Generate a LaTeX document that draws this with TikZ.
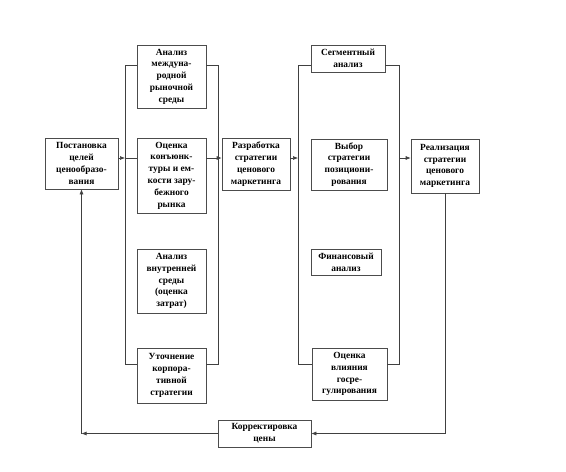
\documentclass[tikz,border=0pt]{standalone}
\usepackage{fontspec}
\setmainfont{Liberation Serif}
\usepackage{tikz}
\usetikzlibrary{calc, positioning, arrows.meta}

\begin{document}
\begin{tikzpicture}[>={Latex[length=5pt,width=4pt]}, x=1pt, y=-1pt,
    blok/.style={draw=black!70, line width=0.6pt, fill=white, align=center,
        inner sep=1pt, font=\fontsize{9.4}{11.8}\selectfont\bfseries},
    linia/.style={draw=black!75, line width=0.6pt}]
    \useasboundingbox (0,0) rectangle (566,472);

    % Блоки
    \node[blok, minimum width=73, minimum height=51] (cel) at (81.5,163.5)
        {Постановка\\целей\\ценообразо-\\вания};
    \node[blok, minimum width=69, minimum height=63] (an1) at (171.5,76.5)
        {Анализ\\междуна-\\родной\\рыночной\\среды};
    \node[blok, minimum width=69, minimum height=75] (an2) at (171.5,175.5)
        {Оценка\\конъюнк-\\туры и ем-\\кости зару-\\бежного\\рынка};
    \node[blok, minimum width=69, minimum height=64] (an3) at (171.5,281)
        {Анализ\\внутренней\\среды\\(оценка\\затрат)};
    \node[blok, minimum width=69, minimum height=55] (an4) at (171.5,375.5)
        {Уточнение\\корпора-\\тивной\\стратегии};
    \node[blok, minimum width=68, minimum height=52] (razr) at (256,164)
        {Разработка\\стратегии\\ценового\\маркетинга};
    \node[blok, minimum width=74, minimum height=27] (seg) at (348,58.5)
        {Сегментный\\анализ};
    \node[blok, minimum width=76, minimum height=51] (vyb) at (349,164.5)
        {Выбор\\стратегии\\позициони-\\рования};
    \node[blok, minimum width=70, minimum height=26] (fin) at (346,262)
        {Финансовый\\анализ};
    \node[blok, minimum width=75, minimum height=52] (gos) at (349.5,374)
        {Оценка\\влияния\\госре-\\гулирования};
    \node[blok, minimum width=68, minimum height=54] (real) at (445,166)
        {Реализация\\стратегии\\ценового\\маркетинга};
    \node[blok, minimum width=93, minimum height=27] (korr) at (264.5,433.5)
        {Корректировка\\цены};

    % Точки скобок
    \coordinate (l1t) at (125,65);  \coordinate (l1m) at (125,158);
    \coordinate (l1b) at (125,364);
    \coordinate (r1t) at (218,65);  \coordinate (r1m) at (218,158);
    \coordinate (r1b) at (218,364);
    \coordinate (l2t) at (298,65);  \coordinate (l2m) at (298,158);
    \coordinate (l2b) at (298,364);
    \coordinate (r2t) at (399,65);  \coordinate (r2m) at (399,158);
    \coordinate (r2b) at (399,364);

    % Скобки первой группы
    \draw[linia] (an1.west |- l1t) -- (l1t) -- (l1b) -- (an4.west |- l1b);
    \draw[linia] (an1.east |- r1t) -- (r1t) -- (r1b) -- (an4.east |- r1b);
    \draw[linia] (l1m) -- (an2.west |- l1m);
    \draw[linia] (an2.east |- r1m) -- (r1m);
    % Скобки второй группы
    \draw[linia] (seg.west |- l2t) -- (l2t) -- (l2b) -- (gos.west |- l2b);
    \draw[linia] (seg.east |- r2t) -- (r2t) -- (r2b) -- (gos.east |- r2b);

    % Стрелки
    \draw[linia, ->] (cel.east |- l1m) -- (l1m);
    \draw[linia, ->] (r1m) -- (razr.west |- r1m);
    \draw[linia, ->] (razr.east |- l2m) -- (l2m);
    \draw[linia, ->] (r2m) -- (real.west |- r2m);
    \draw[linia, ->] (real.south) |- (korr.east);
    \coordinate (ugol) at (cel.south |- korr.west);
    \draw[linia, ->] (korr.west) -- (ugol);
    \draw[linia, ->] (ugol) -- (cel.south);
\end{tikzpicture}
\end{document}
